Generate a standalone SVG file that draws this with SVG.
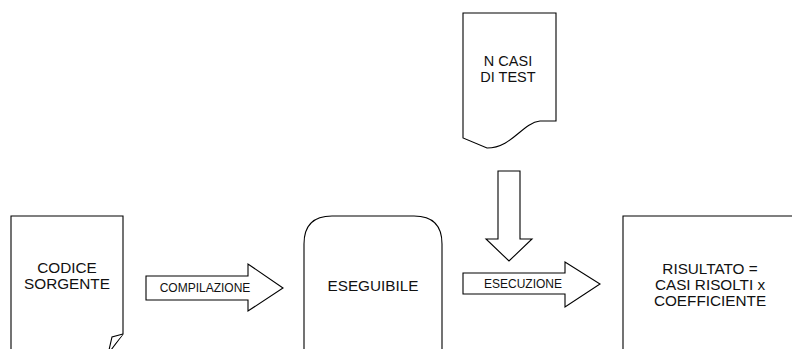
<svg xmlns="http://www.w3.org/2000/svg" width="792" height="349" viewBox="0 0 792 349">
<style>
.s{fill:#fff;stroke:#000;stroke-width:1.1;stroke-linejoin:miter}
.t{font-family:"Liberation Sans",Arial,sans-serif;fill:#111;text-anchor:middle}
.big{font-size:15.3px}
.mid{font-size:14.5px}
.sm{font-size:12px}
</style>
<rect width="792" height="349" fill="#fff"/>
<g id="codice">
<path class="s" d="M11,216 H123 V334 L111,350 H11 Z"/>
<path class="s" d="M123,334 L112,337 L109,350" fill="none"/>
<text class="t big" x="67" y="273">CODICE</text>
<text class="t big" x="67" y="289">SORGENTE</text>
</g>
<g id="eseguibile">
<path class="s" d="M304,355 V244 Q304,216 332,216 H414 Q442,216 442,244 V355"/>
<text class="t big" x="373" y="291">ESEGUIBILE</text>
</g>
<g id="casi">
<path class="s" d="M463,13 H556 V121 L540,121 C522,123 512,148 487,148 L463,138 Z"/>
<text class="t mid" x="508" y="66">N CASI</text>
<text class="t mid" x="508" y="82">DI TEST</text>
</g>
<g id="risultato">
<path class="s" d="M623,355 V216 H795"/>
<text class="t big" x="710" y="274">RISULTATO =</text>
<text class="t big" x="710" y="290">CASI RISOLTI x</text>
<text class="t big" x="710" y="306">COEFFICIENTE</text>
</g>
<g id="connectors">
<g id="compilazione">
<path class="s" d="M146,276 H248 V264 L283,288 L248,311 V300 H146 Z"/>
<text class="t sm" x="205" y="292">COMPILAZIONE</text>
</g>
<g id="esecuzione">
<path class="s" d="M463,273 H565 V262 L600,284 L565,307 V294 H463 Z"/>
<text class="t sm" x="523" y="288">ESECUZIONE</text>
</g>
<g id="input">
<path class="s" d="M498,171 H520 V239 H532 L509,261 L486,239 H498 Z"/>
</g>
</g>
</svg>
